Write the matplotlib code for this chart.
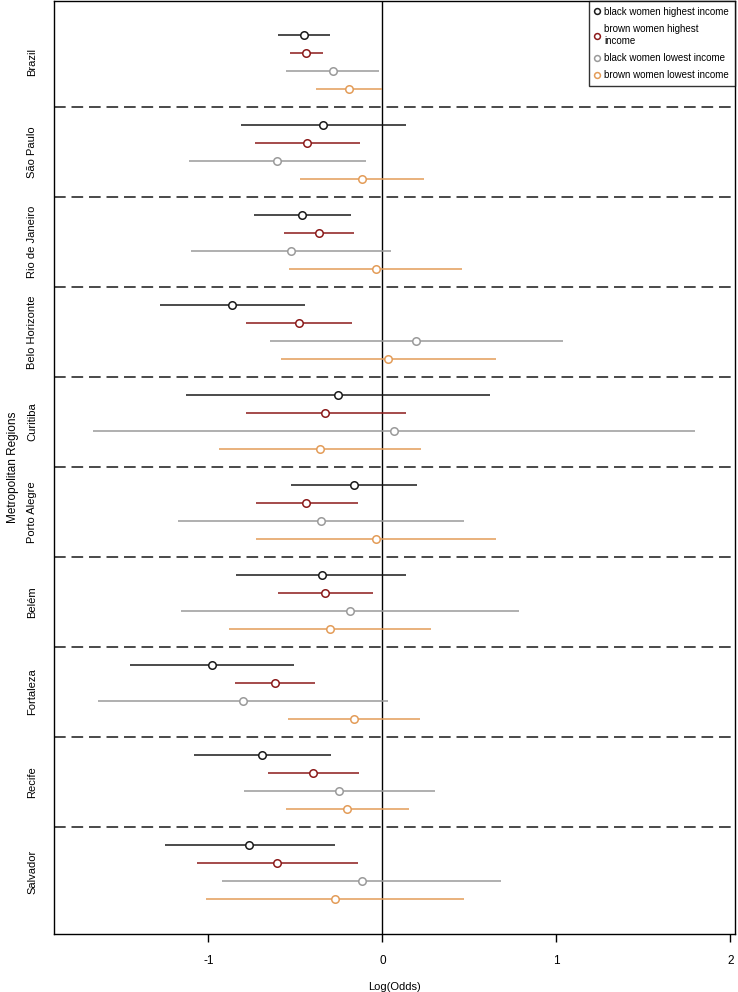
import numpy as np
import matplotlib
matplotlib.use("Agg")
import matplotlib.pyplot as plt
from matplotlib.lines import Line2D

plt.rcParams['font.family'] = ['Liberation Sans', 'DejaVu Sans']

regions = ["Brazil", "São Paulo", "Rio de Janeiro", "Belo Horizonte", "Curitiba",
           "Porto Alegre", "Belém", "Fortaleza", "Recife", "Salvador"]

series = ["black women highest income", "brown women highest\nincome",
          "black women lowest income", "brown women lowest income"]
colores = ["#1a1a1a", "#8b1a1a", "#9a9a9a", "#e39c58"]

# estimativas (log odds) e intervalos, uma linha por região
black_high_est = [-0.450, -0.342, -0.462, -0.862, -0.254, -0.166, -0.349, -0.980, -0.691, -0.764]
black_high_lo = [-0.598, -0.814, -0.736, -1.279, -1.126, -0.528, -0.839, -1.452, -1.083, -1.251]
black_high_hi = [-0.302, 0.133, -0.183, -0.445, 0.616, 0.196, 0.138, -0.510, -0.296, -0.274]

brown_high_est = [-0.437, -0.432, -0.364, -0.480, -0.327, -0.440, -0.327, -0.618, -0.397, -0.606]
brown_high_lo = [-0.530, -0.734, -0.565, -0.784, -0.786, -0.729, -0.598, -0.847, -0.658, -1.065]
brown_high_hi = [-0.339, -0.131, -0.161, -0.173, 0.138, -0.143, -0.053, -0.389, -0.136, -0.141]

black_low_est = [-0.284, -0.603, -0.525, 0.193, 0.068, -0.354, -0.186, -0.799, -0.249, -0.118]
black_low_lo = [-0.555, -1.111, -1.098, -0.648, -1.661, -1.176, -1.156, -1.636, -0.796, -0.920]
black_low_hi = [-0.018, -0.095, 0.050, 1.035, 1.796, 0.467, 0.784, 0.035, 0.302, 0.683]

brown_low_est = [-0.193, -0.118, -0.038, 0.033, -0.359, -0.038, -0.299, -0.161, -0.201, -0.271]
brown_low_lo = [-0.384, -0.472, -0.535, -0.585, -0.937, -0.724, -0.879, -0.540, -0.553, -1.013]
brown_low_hi = [-0.005, 0.239, 0.457, 0.653, 0.224, 0.651, 0.279, 0.216, 0.153, 0.470]

est = [black_high_est, brown_high_est, black_low_est, brown_low_est]
lo = [black_high_lo, brown_high_lo, black_low_lo, brown_low_lo]
hi = [black_high_hi, brown_high_hi, black_low_hi, brown_low_hi]

fig = plt.figure(figsize=(7.38, 9.92), dpi=100)
ax = fig.add_axes([54/738, 1 - 934/992, 681/738, 933/992])

n_reg = len(regions)
for k in range(4):
    y = np.arange(n_reg) * 5 + k
    ax.hlines(y, lo[k], hi[k], color=colores[k], lw=1.1, zorder=2)
    ax.plot(est[k], y, 'o', mfc='white', mec=colores[k], mew=1.1, ms=5.4, ls='none', zorder=3)

# separadores entre regiões
for g in range(n_reg - 1):
    ax.axhline(5*g + 4, color='#4a4a4a', lw=1.4, ls=(0, (6, 3)), zorder=1)

ax.axvline(0, color='black', lw=1.0, zorder=1)

ax.set_xlim(-1.887, 2.026)
ax.set_ylim(49.94, -1.89)
ax.set_xticks([-1, 0, 1, 2])
ax.set_xticklabels(["-1", "0", "1", "2"])
ax.set_yticks(np.arange(n_reg) * 5 + 1.5)
ax.set_yticklabels(regions, rotation=90, va='center')
ax.tick_params(axis='y', length=0, pad=12, labelsize=8)
ax.tick_params(axis='x', length=6, width=1, pad=9, labelsize=8.5)
ax.set_xlabel("Log(Odds)", fontsize=8, labelpad=11)
ax.set_ylabel("Metropolitan Regions", fontsize=8.5, labelpad=6)
for s in ax.spines.values():
    s.set_linewidth(1.0)

handles = [Line2D([], [], marker='o', ls='none', mfc='white', mec=c, mew=1.1, ms=4.2)
           for c in colores]
leg = ax.legend(handles, series, loc='upper right', fontsize=7, frameon=True,
                fancybox=False, borderaxespad=0, handletextpad=0.5, handlelength=0.5,
                labelspacing=0.75, borderpad=0.6)
leg.get_frame().set_edgecolor('black')
leg.get_frame().set_linewidth(1.0)

fig.savefig("out.png", dpi=100)
